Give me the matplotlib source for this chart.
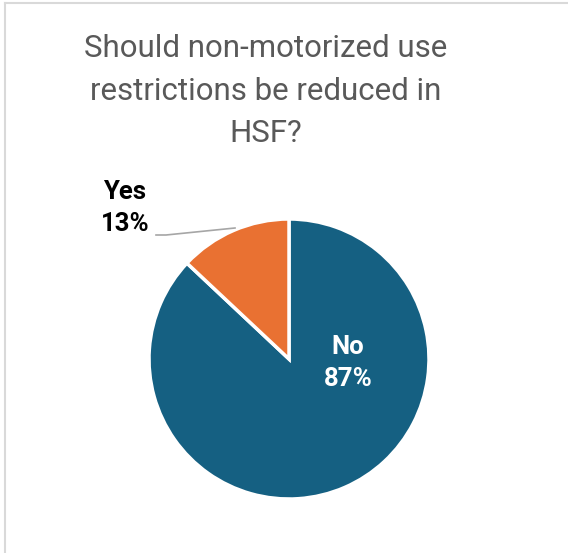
import matplotlib.pyplot as plt
from matplotlib.lines import Line2D

# Data
categories = ['No', 'Yes']
shares = [87, 13]
colors = ['#156082', '#E97132']
title = 'Should non-motorized use\nrestrictions be reduced in\nHSF?'

W, H = 568, 553
fig = plt.figure(figsize=(W / 100, H / 100), dpi=100)
ax = fig.add_axes([0, 0, 1, 1])


def py(y):
    # pixel row (from top) -> data y
    return H - y


# Chart frame (only left and top edges visible in crop)
fig.add_artist(Line2D([5 / W, 5 / W], [0, 1 - 3 / H], color='#D9D9D9', lw=1.5))
fig.add_artist(Line2D([5 / W, 1], [1 - 3 / H, 1 - 3 / H], color='#D9D9D9', lw=1.5))

# Pie: start at 12 o'clock, clockwise
wedges, _ = ax.pie(shares, colors=colors, startangle=90, counterclock=False,
                   center=(289, py(359)), radius=140, frame=True,
                   wedgeprops=dict(edgecolor='white', linewidth=2.5))
ax.set_xlim(0, W)
ax.set_ylim(0, H)
ax.axis('off')

ax.text(266, py(91), title, ha='center', va='center', fontsize=22.5,
        color='#595959', family='Roboto', linespacing=1.6)

# Labels
ax.text(348, py(363), f'{categories[0]}\n{shares[0]}%', ha='center', va='center',
        fontsize=18.5, fontweight='bold', color='white', family='Roboto',
        linespacing=1.4)
ax.text(125, py(208), f'{categories[1]}\n{shares[1]}%', ha='center', va='center',
        fontsize=18.5, fontweight='bold', color='black', family='Roboto',
        linespacing=1.4)
ax.plot([156, 166, 235], [py(235), py(235), py(228)], color='#A6A6A6', lw=1.2)

fig.savefig('out.png', dpi=100)
